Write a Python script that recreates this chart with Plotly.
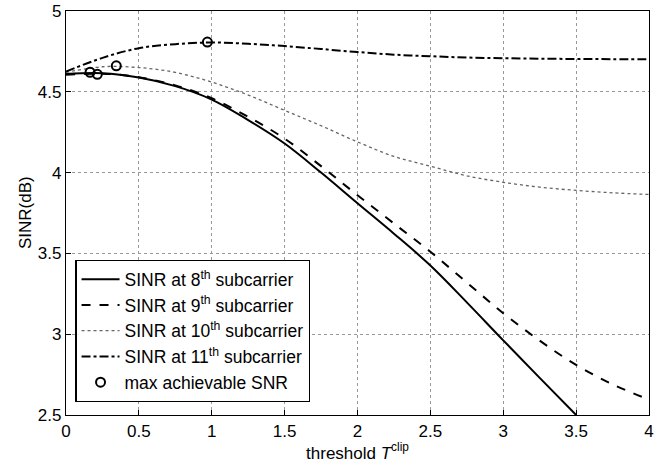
import plotly.graph_objects as go

x_vals = [0, 0.25, 0.5, 0.75, 1.0, 1.25, 1.5, 1.75, 2.0, 2.25, 2.5, 2.75, 3.0, 3.25, 3.5, 3.75, 4.0]
x_vals_8 = [0, 0.25, 0.5, 0.75, 1.0, 1.25, 1.5, 1.75, 2.0, 2.25, 2.5, 2.75, 3.0, 3.25, 3.5]

sinr_8 = [4.61, 4.615, 4.588, 4.535, 4.452, 4.325, 4.18, 4.0, 3.81, 3.622, 3.425, 3.197, 2.962, 2.73, 2.5]
sinr_9 = [4.605, 4.612, 4.59, 4.54, 4.46, 4.345, 4.21, 4.04, 3.86, 3.685, 3.51, 3.32, 3.13, 2.96, 2.81, 2.69, 2.595]
sinr_10 = [4.62, 4.655, 4.65, 4.62, 4.56, 4.48, 4.385, 4.29, 4.19, 4.10, 4.04, 3.98, 3.94, 3.91, 3.89, 3.875, 3.865]
sinr_11 = [4.625, 4.71, 4.77, 4.795, 4.805, 4.797, 4.783, 4.765, 4.746, 4.73, 4.72, 4.712, 4.708, 4.705, 4.703, 4.702, 4.701]

max_x = [0.165, 0.215, 0.345, 0.97]
max_y = [4.621, 4.608, 4.661, 4.808]

series_names = [
    "SINR at 8<sup>th</sup> subcarrier",
    "SINR at 9<sup>th</sup> subcarrier",
    "SINR at 10<sup>th</sup> subcarrier",
    "SINR at 11<sup>th</sup> subcarrier",
]
marker_name = "max achievable SNR"
x_title = "threshold <i>T</i><sup>clip</sup>"
y_title = "SINR(dB)"

x_ticks = [0, 0.5, 1, 1.5, 2, 2.5, 3, 3.5, 4]
y_ticks = [2.5, 3, 3.5, 4, 4.5, 5]

FS = 17

fig = go.Figure()
styles = [
    dict(color="black", width=2, dash="solid"),
    dict(color="black", width=2, dash="dash"),
    dict(color="#666666", width=1.3, dash="dot"),
    dict(color="black", width=2, dash="dashdot"),
]
xs_list = [x_vals_8, x_vals, x_vals, x_vals]
for name, xs, ys, st in zip(series_names, xs_list, [sinr_8, sinr_9, sinr_10, sinr_11], styles):
    fig.add_trace(go.Scatter(x=xs, y=ys, mode="lines", name=name,
                             line=dict(shape="spline", smoothing=1.0, **st)))

fig.add_trace(go.Scatter(x=max_x, y=max_y, mode="markers", name=marker_name,
                         marker=dict(symbol="circle-open", size=9, color="black",
                                     line=dict(width=2, color="black"))))

axis_common = dict(
    showline=True, linecolor="black", linewidth=1.2, mirror=True,
    ticks="inside", ticklen=5, tickcolor="black",
    showgrid=True, gridcolor="#999999", griddash="dot", gridwidth=1,
    zeroline=False, tickfont=dict(size=FS, color="black"), automargin=False,
)

fig.update_xaxes(range=[0, 4], tickvals=x_ticks, ticktext=[f"{t:g}" for t in x_ticks],
                 title=dict(text=x_title, font=dict(size=FS, color="black"), standoff=0),
                 **axis_common)
fig.update_yaxes(range=[2.5, 5], tickvals=y_ticks, ticktext=[f"{t:g}" for t in y_ticks],
                 **axis_common)

fig.add_annotation(text=y_title, xref="paper", yref="paper", x=0, y=0.5,
                   xanchor="center", yanchor="middle", xshift=-41, textangle=-90,
                   showarrow=False, font=dict(size=FS, color="black"))

fig.update_layout(
    width=670, height=466,
    margin=dict(l=66, r=21, t=11, b=51),
    paper_bgcolor="white", plot_bgcolor="white",
    font=dict(family="Liberation Sans, Arial, sans-serif", size=FS, color="black"),
    legend=dict(x=0.016, y=0.032, xanchor="left", yanchor="bottom",
                bgcolor="white", bordercolor="black", borderwidth=1.2,
                font=dict(size=17.5), tracegroupgap=0, itemwidth=38),
    showlegend=True,
)

fig.write_html("out.html", config={"displayModeBar": False},
               post_script="document.body.style.margin='0';document.body.style.padding='0';")
